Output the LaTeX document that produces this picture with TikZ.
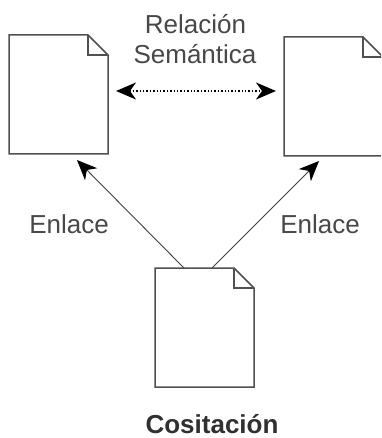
\documentclass[tikz,border=0pt]{standalone}
\usepackage{fontspec}
\setmainfont{Liberation Sans}
\usetikzlibrary{arrows.meta}
\definecolor{txt}{HTML}{484848}
\definecolor{boldtxt}{HTML}{303030}
\definecolor{edge}{HTML}{505050}
\tikzset{
  x=1pt,y=-1pt,
  page/.style={minimum width=99pt,minimum height=119pt,inner sep=0pt,outer sep=0pt},
  outline/.style={draw=edge,line width=1.5pt,line join=miter},
  lbl/.style={font=\fontsize{26}{26}\selectfont,text=txt,anchor=base,inner sep=0pt},
  lnk/.style={draw=black!75,line width=0.9pt,-{Stealth[length=20pt,width=17pt,inset=6pt,color=black]}},
  sem/.style={draw=black,line width=1.4pt,dotted,{Stealth[length=20pt,width=17pt,inset=6pt,color=black]}-{Stealth[length=20pt,width=17pt,inset=6pt,color=black]}}
}
\newcommand{\docsheet}[3]{%
  \node[page] (#1) at (#2,#3) {};
  \draw[outline] (#1.north west) -- ([xshift=-20pt]#1.north east) -- ([yshift=-20pt]#1.north east) -- (#1.south east) -- (#1.south west) -- cycle;
  \draw[outline,line width=1.2pt] ([xshift=-20pt]#1.north east) -- ([xshift=-20pt,yshift=-20pt]#1.north east) -- ([yshift=-20pt]#1.north east);
}
\begin{document}
\begin{tikzpicture}
\clip (0,0) rectangle (381,438);
\fill[white] (0,0) rectangle (381,438);
\docsheet{left}{58.5}{94.5}
\docsheet{right}{333.5}{96.5}
\docsheet{mid}{204.5}{327.5}
\node[lbl] (t1) at (195.5,34) {Relación};
\node[lbl] (t2) at (195,64) {Semántica};
\node[lbl] (e1) at (69,233) {Enlace};
\node[lbl] (e2) at (320,233) {Enlace};
\node[lbl,font=\fontsize{26}{26}\selectfont\bfseries,text=boldtxt] (c) at (212,433) {Cositación};
\draw[lnk] ([xshift=-20.5pt]mid.north) -- ([xshift=18.5pt,yshift=-6pt]left.south);
\draw[lnk] ([xshift=7.5pt]mid.north) -- ([xshift=-14.5pt,yshift=-5pt]right.south);
\draw[sem] ([xshift=8pt,yshift=3.5pt]left.east) -- ([xshift=-8pt,yshift=5.5pt]right.west);
\end{tikzpicture}
\end{document}
